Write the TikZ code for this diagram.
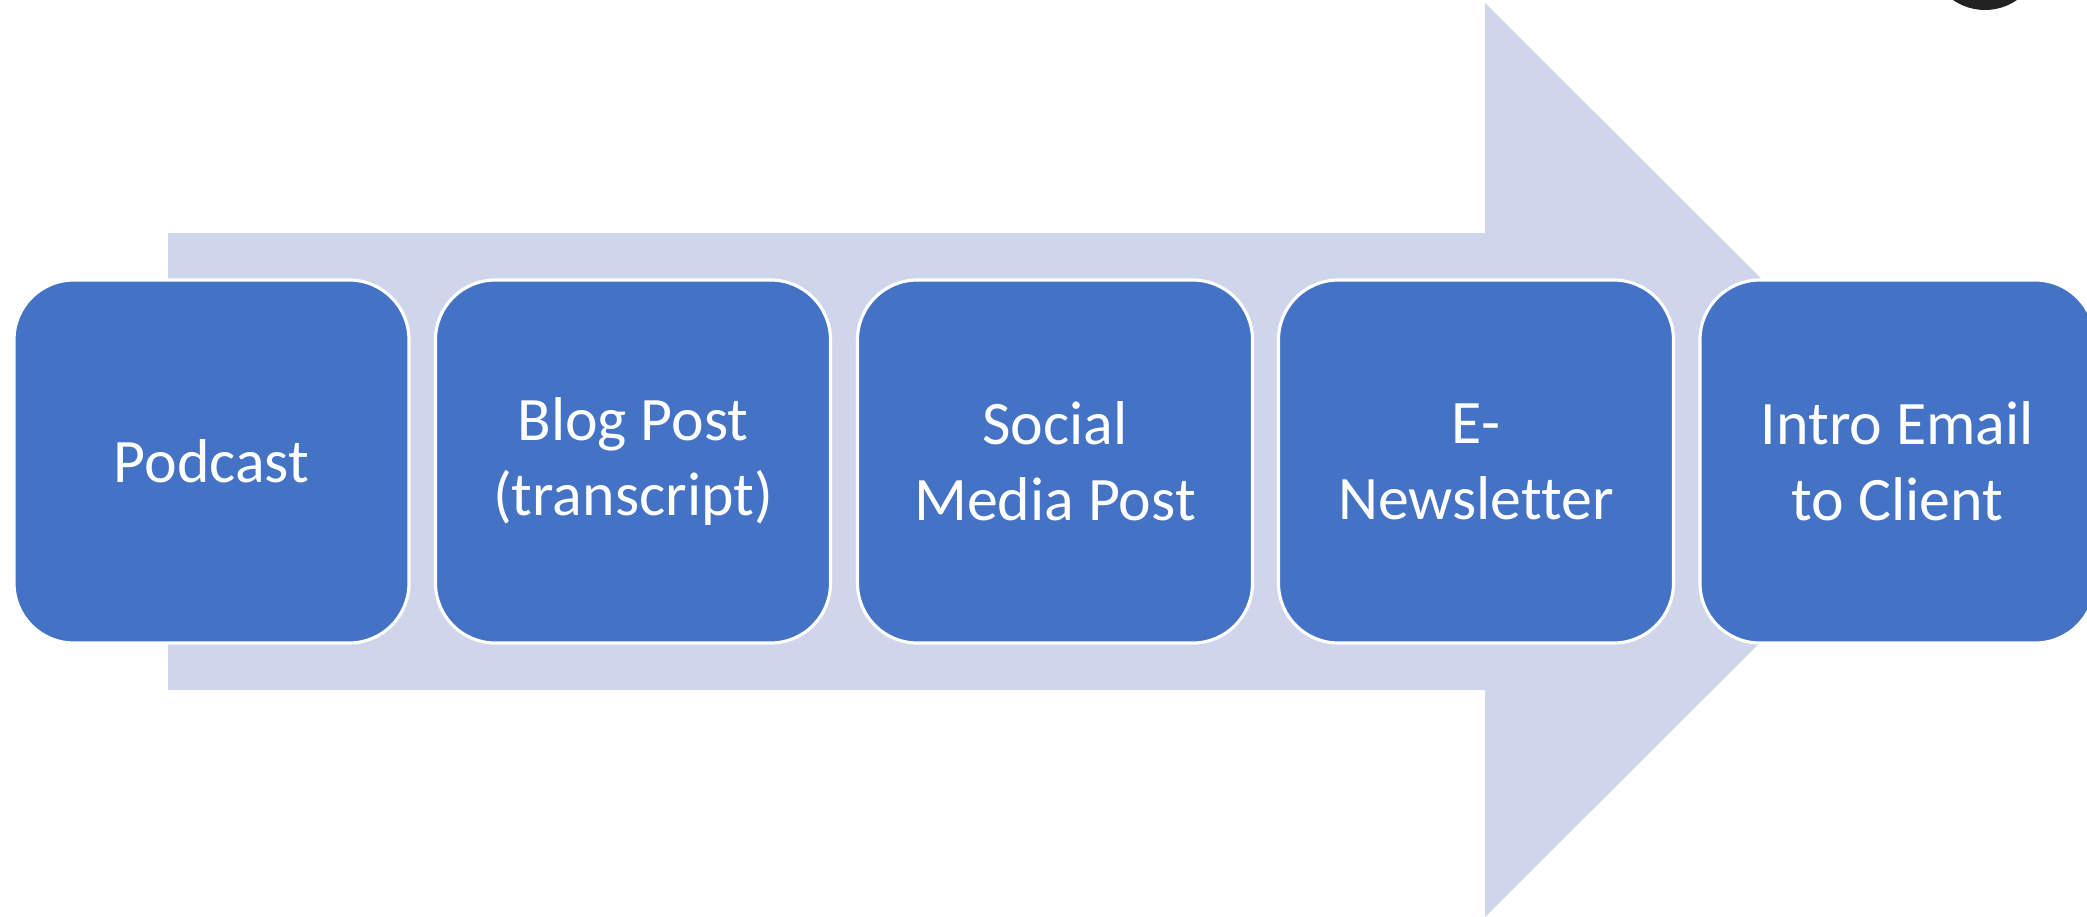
\documentclass[tikz,border=0pt]{standalone}
\usepackage{fontspec}
\setmainfont[Ligatures=NoCommon]{Carlito}
\definecolor{stepblue}{HTML}{4472C4}
\definecolor{arrowlav}{HTML}{CFD5EA}
\definecolor{dotgrey}{HTML}{222222}
\tikzset{
  stagebox/.style={rectangle, rounded corners=17pt, fill=stepblue, draw=white, line width=0.9pt,
    minimum width=3.95cm, minimum height=3.63cm, text=white, align=center,
    font=\fontsize{17.6}{21.6}\selectfont}
}
\begin{document}
\begin{tikzpicture}[x=0.1mm,y=-0.1mm]
        \useasboundingbox (0,0) rectangle (2087,917);
        \fill [arrowlav] (168,233) -- (1485,233) -- (1485,3) -- (1943,460) -- (1485,917) -- (1485,690) -- (168,690) -- cycle;
        \fill [dotgrey] (1985,-46) circle (5.6mm);
        \node [stagebox] (podcast) at (211.5,461.5) {Podcast};
        \node [stagebox] (blog) at (633,461.5) {Blog Post\\(transcript)};
        \node [stagebox] (social) at (1055,461.5) {Social\\Media Post};
        \node [stagebox] (newsletter) at (1476,461.5) {E-\\Newsletter};
        \node [stagebox] (intro) at (1897.5,461.5) {Intro Email\\to Client};
        \end{tikzpicture}
\end{document}
